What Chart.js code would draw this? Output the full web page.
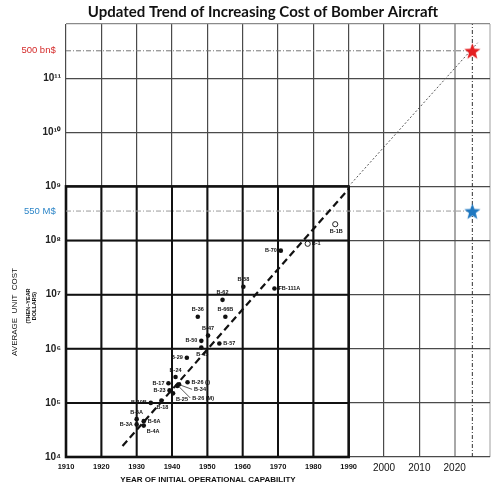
<!DOCTYPE html>
<html>
<head>
<meta charset="utf-8">
<script src="https://cdn.jsdelivr.net/npm/chart.js@4.4.0/dist/chart.umd.min.js"></script>
<style>
  html, body { margin: 0; padding: 0; background: #fff; }
  #wrap { position: relative; width: 500px; height: 492px; }
</style>
</head>
<body>
<div id="wrap"><canvas id="chart"></canvas></div>
<script>
// bombers (filled dots): year of IOC and average unit cost
const bomberNames = ['B-3A', 'B-5A', 'B-4A', 'B-6A', 'B-10B', 'B-18', 'B-23', 'B-17', 'B-25', 'B-24',
  'B-26 (M)', 'B-34', 'B-26 (I)', 'B-29', 'B-45', 'B-50', 'B-47', 'B-57', 'B-36', 'B-66B',
  'B-62', 'B-58', 'FB-111A', 'B-70'];
const bomberYears = [1930, 1930, 1932, 1932, 1934, 1937, 1939.3, 1939, 1940.3, 1941,
  1941.5, 1942, 1944.4, 1944.2, 1948.3, 1948.3, 1950.2, 1953.4, 1947.3, 1955.1,
  1954.3, 1960.2, 1969, 1970.8];
const bomberCosts = [4.0e4, 5.0e4, 3.8e4, 4.6e4, 1.0e5, 1.1e5, 1.7e5, 2.3e5, 1.5e5, 3.0e5,
  2.05e5, 2.2e5, 2.4e5, 6.8e5, 1.05e6, 1.4e6, 1.75e6, 1.25e6, 3.9e6, 3.9e6,
  8.0e6, 1.4e7, 1.3e7, 6.5e7];

// later programs (open circles)
const openNames = ['B-1', 'B-1B'];
const openYears = [1978.4, 1986.2];
const openCosts = [8.7e7, 2.0e8];

// original trend and its extension
const trendYears = [1926, 1990];
const trendCosts = [1.6e4, 9e8];
const extYears = [1990, 2026.5];
const extCosts = [1e9, 4.5e11];

// the new estimate
const targetYear = 2025;
const unitCost = 3.5e8;      // shown as 550 M$
const programCost = 3.2e11;  // shown as 500 bn$

const yearTicks = [1910, 1920, 1930, 1940, 1950, 1960, 1970, 1980, 1990, 2000, 2010, 2020, 2030];
const costDecades = [1e4, 1e5, 1e6, 1e7, 1e8, 1e9, 1e10, 1e11, 1e12];

// where each bomber label sits relative to its dot
const labelSide = ['l', 'a', 'rb', 'r', 'l', 'b', 'l', 'l', 'rb', 'a',
  'lead2', 'lead1', 'r', 'l', 'b', 'l', 'a', 'r', 'a', 'a',
  'a', 'a', 'r', 'l'];
const openSide = ['r', 'b'];

const SANS = "'Liberation Sans', Arial, sans-serif";
const SUP = { '0': '⁰', '1': '¹', '2': '²', '3': '³', '4': '⁴', '5': '⁵', '6': '⁶', '7': '⁷', '8': '⁸', '9': '⁹' };

function pts(xs, ys) {
  return xs.map((x, i) => ({ x: x, y: ys[i] }));
}

function starImage(color, r) {
  const c = document.createElement('canvas');
  const s = Math.ceil(r * 2 + 2);
  c.width = s; c.height = s;
  const g = c.getContext('2d');
  g.beginPath();
  for (let i = 0; i < 10; i++) {
    const rad = i % 2 ? r * 0.42 : r;
    const a = -Math.PI / 2 + i * Math.PI / 5;
    g.lineTo(s / 2 + rad * Math.cos(a), s / 2 + 1 + rad * Math.sin(a));
  }
  g.closePath();
  g.fillStyle = color;
  g.fill();
  return c;
}

function isMarker(v) {
  return v === unitCost || v === programCost;
}

// the old chart's heavy box and grid, plus the point names
const overlay = {
  id: 'overlay',
  beforeDatasetsDraw(chart) {
    const { ctx, scales: { x, y } } = chart;
    ctx.save();
    ctx.strokeStyle = '#111';
    ctx.lineWidth = 2;
    for (let yr = 1920; yr < 1990; yr += 10) {
      ctx.beginPath();
      ctx.moveTo(x.getPixelForValue(yr), y.getPixelForValue(1e4));
      ctx.lineTo(x.getPixelForValue(yr), y.getPixelForValue(1e9));
      ctx.stroke();
    }
    [1e5, 1e6, 1e7, 1e8].forEach(v => {
      ctx.beginPath();
      ctx.moveTo(x.getPixelForValue(1910), y.getPixelForValue(v));
      ctx.lineTo(x.getPixelForValue(1990), y.getPixelForValue(v));
      ctx.stroke();
    });
    ctx.lineWidth = 2.6;
    const l = x.getPixelForValue(1910), r = x.getPixelForValue(1990);
    const t = y.getPixelForValue(1e9), b = y.getPixelForValue(1e4);
    ctx.strokeRect(l, t, r - l, b - t);
    ctx.restore();
  },
  afterDatasetsDraw(chart) {
    const { ctx } = chart;
    ctx.save();
    ctx.font = 'bold 5.5px ' + SANS;
    ctx.fillStyle = '#111';
    ctx.strokeStyle = '#111';
    ctx.lineWidth = 0.7;
    ctx.textBaseline = 'middle';
    const put = (el, text, side) => {
      const px = el.x, py = el.y;
      if (side === 'l') { ctx.textAlign = 'right'; ctx.fillText(text, px - 4, py); }
      else if (side === 'r') { ctx.textAlign = 'left'; ctx.fillText(text, px + 4, py); }
      else if (side === 'a') { ctx.textAlign = 'center'; ctx.fillText(text, px, py - 7); }
      else if (side === 'b') { ctx.textAlign = 'center'; ctx.fillText(text, px + 1, py + 7); }
      else if (side === 'rb') { ctx.textAlign = 'left'; ctx.fillText(text, px + 3, py + 6); }
      else {
        const dy = side === 'lead1' ? 5 : 12;
        ctx.beginPath();
        ctx.moveTo(px + 2, py + 1);
        ctx.lineTo(px + 13, py + dy);
        ctx.stroke();
        ctx.textAlign = 'left';
        ctx.fillText(text, px + 15, py + dy);
      }
    };
    chart.getDatasetMeta(0).data.forEach((el, i) => put(el, bomberNames[i], labelSide[i]));
    chart.getDatasetMeta(1).data.forEach((el, i) => put(el, openNames[i], openSide[i]));
    ctx.restore();
  },
  afterDraw(chart) {
    const { ctx } = chart;
    ctx.save();
    ctx.fillStyle = '#111';
    ctx.textAlign = 'center';
    ctx.textBaseline = 'middle';
    ctx.font = "bold 15px Lato, 'Open Sans', sans-serif";
    ctx.fillText('Updated Trend of Increasing Cost of Bomber Aircraft', 263, 12);
    ctx.font = 'bold 8px ' + SANS;
    ctx.fillText('YEAR OF INITIAL OPERATIONAL CAPABILITY', 208, 480);
    ctx.translate(15, 312);
    ctx.rotate(-Math.PI / 2);
    ctx.font = '8px ' + SANS;
    ctx.fillText('AVERAGE  UNIT  COST', 0, 0);
    ctx.font = 'bold 5.5px ' + SANS;
    ctx.fillText('(THEN\u2013YEAR', 6, 13);
    ctx.fillText('DOLLARS)', 6, 19);
    ctx.restore();
  }
};

new Chart(document.getElementById('chart'), {
  type: 'scatter',
  data: {
    datasets: [
      {
        label: 'bombers',
        data: pts(bomberYears, bomberCosts),
        pointRadius: 2.3,
        backgroundColor: '#111',
        borderColor: '#111',
        borderWidth: 0,
        order: 1
      },
      {
        label: 'later programs',
        data: pts(openYears, openCosts),
        pointRadius: 2.6,
        backgroundColor: '#fff',
        borderColor: '#222',
        borderWidth: 1,
        order: 1
      },
      {
        label: 'new estimate',
        data: pts([targetYear, targetYear], [programCost, unitCost]),
        pointStyle: [starImage('#e41e20', 8.5), starImage('#1f78c1', 8.5)],
        order: 0
      },
      {
        label: 'trend',
        data: pts(trendYears, trendCosts),
        showLine: true,
        pointRadius: 0,
        borderColor: '#111',
        borderWidth: 2.2,
        borderDash: [7, 4],
        order: 2
      },
      {
        label: 'extension',
        data: pts(extYears, extCosts),
        showLine: true,
        pointRadius: 0,
        borderColor: '#555',
        borderWidth: 1,
        borderDash: [2, 2],
        order: 2
      },
      {
        label: '500 bn$',
        data: pts([1910, targetYear], [programCost, programCost]),
        showLine: true,
        pointRadius: 0,
        borderColor: '#777',
        borderWidth: 1,
        borderDash: [5, 2, 1, 2],
        order: 3
      },
      {
        label: '550 M$',
        data: pts([1910, targetYear], [unitCost, unitCost]),
        showLine: true,
        pointRadius: 0,
        borderColor: '#999',
        borderWidth: 1,
        borderDash: [5, 2, 1, 2],
        order: 3
      },
      {
        label: 'target year',
        data: pts([targetYear, targetYear], [costDecades[0], costDecades[costDecades.length - 1]]),
        showLine: true,
        pointRadius: 0,
        borderColor: '#333',
        borderWidth: 1,
        borderDash: [4, 2, 1, 2],
        order: 3
      }
    ]
  },
  options: {
    responsive: true,
    maintainAspectRatio: false,
    animation: false,
    layout: { padding: { top: 24, right: 10, left: 0, bottom: 0 } },
    plugins: {
      legend: { display: false },
      tooltip: { enabled: false },
      title: { display: false }
    },
    scales: {
      x: {
        type: 'linear',
        min: 1910,
        max: 2030,
        afterBuildTicks: scale => { scale.ticks = yearTicks.map(v => ({ value: v })); },
        afterFit: scale => { scale.height = 35; },
        border: { display: false },
        grid: {
          drawTicks: false,
          color: ctx => ctx.tick.value === 2030 ? '#cfcfcf' : (ctx.tick.value === 2020 ? '#a8a8a8' : '#4a4a4a'),
          lineWidth: ctx => ctx.tick.value >= 2020 ? 2 : 1.2
        },
        ticks: {
          autoSkip: false,
          maxRotation: 0,
          padding: 5,
          color: '#111',
          font: ctx => ctx.tick && ctx.tick.value >= 2000
            ? { family: SANS, size: 10 }
            : { family: SANS, size: 7.5, weight: 'bold' },
          callback: v => v === 2030 ? '' : String(v)
        }
      },
      y: {
        type: 'logarithmic',
        min: 1e4,
        max: 1e12,
        afterBuildTicks: scale => {
          scale.ticks = costDecades.concat([unitCost, programCost])
            .sort((a, b) => a - b)
            .map(v => ({ value: v }));
        },
        afterFit: scale => { scale.width = 66; },
        border: { display: false },
        grid: {
          drawTicks: false,
          color: ctx => isMarker(ctx.tick.value) ? 'rgba(0,0,0,0)' : (ctx.tick.value === 1e12 ? '#8a8a8a' : '#4a4a4a'),
          lineWidth: 1.2
        },
        ticks: {
          autoSkip: false,
          padding: 5,
          color: ctx => ctx.tick.value === programCost ? '#d42a2a' : (ctx.tick.value === unitCost ? '#2e86c8' : '#222'),
          font: ctx => isMarker(ctx.tick.value)
            ? { family: SANS, size: 9.5 }
            : { family: SANS, size: 10, weight: 'bold' },
          callback: v => {
            if (v === programCost) return '500 bn$  ';
            if (v === unitCost) return '550 M$  ';
            if (v === 1e12) return '';
            const e = Math.round(Math.log10(v));
            return '10' + String(e).split('').map(d => SUP[d]).join('');
          }
        }
      }
    }
  },
  plugins: [overlay]
});
</script>
</body>
</html>
